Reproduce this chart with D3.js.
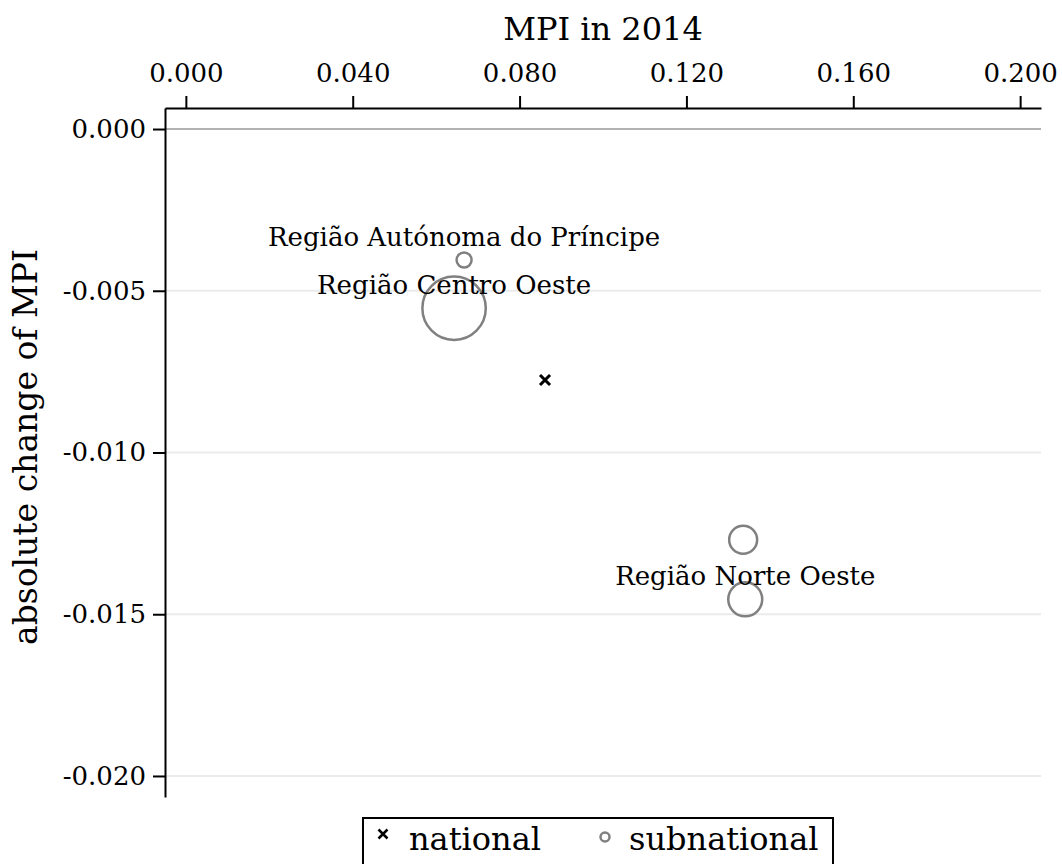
<!DOCTYPE html>
<html>
<head>
<meta charset="utf-8">
<script src="https://cdn.jsdelivr.net/npm/d3@7"></script>
<style>
  body { margin: 0; background: #fff; }
  svg { display: block; font-family: "DejaVu Serif", serif; }
</style>
</head>
<body>
<svg width="1062" height="864"></svg>
<script>
// data
var regions = ["Região Autónoma do Príncipe", "Região Centro Oeste", "", "Região Norte Oeste"];
var mpi2014 = [0.0667, 0.0643, 0.1336, 0.1341];
var mpiChange = [-0.00405, -0.00554, -0.0127, -0.01454];
var population = [7500, 134000, 26100, 38500];
var national = { mpi: 0.0861, change: -0.00776 };
var xTicks = [0, 0.04, 0.08, 0.12, 0.16, 0.2];
var yTicks = [0, -0.005, -0.01, -0.015, -0.02];

const LEFT = 165, RIGHT = 1041, TOP = 108, BOTTOM = 797;
const GREY = "#808080";

var svg = d3.select("svg");

var x_scale = d3.scaleLinear().domain([-0.005, 0.205]).range([LEFT, RIGHT]);
var y_scale = d3.scaleLinear().domain([0.00065, -0.02065]).range([TOP, BOTTOM]);
var r_scale = d3.scaleSqrt().domain([0, 134000]).range([0, 31.7]);

var fmt = (d) => d3.format(".3f")(d).replace("\u2212", "-");

function cross(h) {
  return "M" + -h + "," + -h + "L" + h + "," + h + "M" + -h + "," + h + "L" + h + "," + -h;
}

// grid lines
svg.append("g")
  .selectAll("line")
  .data(yTicks)
  .enter()
  .append("line")
  .attr("x1", LEFT)
  .attr("x2", RIGHT)
  .attr("y1", (d) => y_scale(d))
  .attr("y2", (d) => y_scale(d))
  .attr("stroke", (d) => (d === 0 ? "#999" : "#ebebeb"))
  .attr("stroke-width", (d) => (d === 0 ? 1.5 : 2));

// axes
var xAxis = d3.axisTop(x_scale)
  .tickValues(xTicks)
  .tickFormat(fmt)
  .tickSizeInner(12)
  .tickSizeOuter(0)
  .tickPadding(14);
var gx = svg.append("g")
  .attr("transform", "translate(0," + TOP + ")")
  .call(xAxis);

var yAxis = d3.axisLeft(y_scale)
  .tickValues(yTicks)
  .tickFormat(fmt)
  .tickSizeInner(12)
  .tickSizeOuter(0)
  .tickPadding(7);
var gy = svg.append("g")
  .attr("transform", "translate(" + LEFT + ",0)")
  .call(yAxis);

[gx, gy].forEach(function (g) {
  g.attr("font-family", "DejaVu Serif").attr("font-size", 26);
  g.select(".domain").attr("stroke", "#000").attr("stroke-width", 2);
  g.selectAll(".tick line").attr("stroke", "#000").attr("stroke-width", 2);
  g.selectAll(".tick text").attr("fill", "#000");
});

// axis titles
svg.append("text")
  .attr("x", (LEFT + RIGHT) / 2)
  .attr("y", 40)
  .attr("text-anchor", "middle")
  .attr("font-size", 32)
  .text("MPI in 2014");

svg.append("text")
  .attr("transform", "translate(37,447) rotate(-90)")
  .attr("text-anchor", "middle")
  .attr("font-size", 33)
  .text("absolute change of MPI");

// subnational bubbles
var points = regions.map((name, i) => ({
  name: name,
  mpi: mpi2014[i],
  change: mpiChange[i],
  pop: population[i],
}));

svg.append("g")
  .selectAll("circle")
  .data(points)
  .enter()
  .append("circle")
  .attr("cx", (d) => x_scale(d.mpi))
  .attr("cy", (d) => y_scale(d.change))
  .attr("r", (d) => r_scale(d.pop))
  .attr("fill", "none")
  .attr("stroke", GREY)
  .attr("stroke-width", 2.5);

svg.append("g")
  .selectAll("text")
  .data(points.filter((d) => d.name))
  .enter()
  .append("text")
  .attr("x", (d) => x_scale(d.mpi))
  .attr("y", (d) => y_scale(d.change) - 14)
  .attr("text-anchor", "middle")
  .attr("font-size", 26)
  .text((d) => d.name);

// national marker
svg.append("path")
  .attr("d", cross(5))
  .attr("transform", "translate(" + x_scale(national.mpi) + "," + y_scale(national.change) + ")")
  .attr("stroke", "#000")
  .attr("stroke-width", 3)
  .attr("fill", "none");

// legend
var legend = svg.append("g");
legend.append("rect")
  .attr("x", 363)
  .attr("y", 818)
  .attr("width", 470)
  .attr("height", 70)
  .attr("fill", "#fff")
  .attr("stroke", "#000")
  .attr("stroke-width", 2);
legend.append("path")
  .attr("d", cross(4.5))
  .attr("transform", "translate(383,834)")
  .attr("stroke", "#000")
  .attr("stroke-width", 2.5)
  .attr("fill", "none");
legend.append("text")
  .attr("x", 409)
  .attr("y", 850)
  .attr("font-size", 32)
  .text("national");
legend.append("circle")
  .attr("cx", 605)
  .attr("cy", 837)
  .attr("r", 4.5)
  .attr("fill", "none")
  .attr("stroke", GREY)
  .attr("stroke-width", 2.5);
legend.append("text")
  .attr("x", 629)
  .attr("y", 850)
  .attr("font-size", 32)
  .text("subnational");
</script>
</body>
</html>
